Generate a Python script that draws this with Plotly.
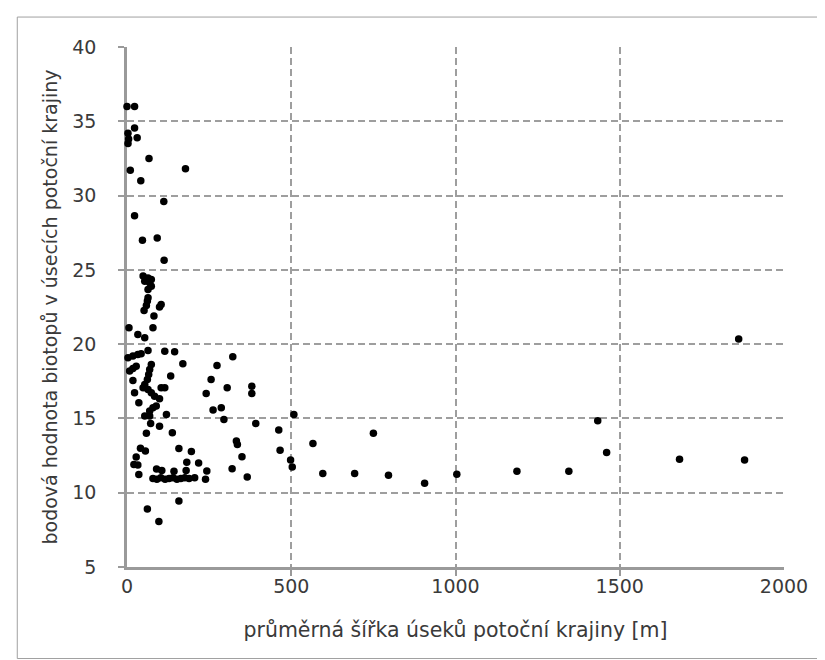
import plotly.graph_objects as go

# average width of stream landscape section [m]
width_m = [
    0, 23, 23, 3, 31, 5, 3, 67, 178, 10, 42, 112, 23, 92, 47, 113,
    49, 64, 74, 54, 69, 74, 64, 64, 62, 59, 52, 104, 99, 82, 6, 79, 33, 54,
    64, 115, 145, 170, 133, 3, 18, 33, 43, 8, 18, 28, 74, 69, 66, 62, 54, 18,
    49, 64, 74, 84, 99, 115, 104, 23, 36, 54, 69, 79, 89, 120, 69,
    322, 274, 256, 305, 241, 380, 380, 262, 287, 295, 392, 462, 333, 336, 350,
    466, 218, 196, 243, 320, 366, 239, 206, 182, 158,
    41, 56, 28, 21, 33, 36, 59, 72, 99, 138,
    90, 106, 143, 180, 79, 91, 103, 116, 128, 140, 152, 164, 176, 189,
    62, 158, 97,
    508, 498, 503, 566, 750, 596, 693, 796, 906, 1004, 1187, 1345, 1433, 1460,
    1682, 1880, 1862,
]

# point value of biotopes in stream landscape sections
biotope_value = [
    36.0, 36.0, 34.55, 34.2, 33.9, 33.8, 33.5, 32.5, 31.8, 31.7, 31.0, 29.6, 28.65, 27.15, 27.0, 25.65,
    24.58, 24.46, 24.35, 24.24, 24.13, 23.9, 23.68, 23.12, 22.9, 22.6, 22.26, 22.67, 22.5, 21.89, 21.1, 21.1, 20.65, 20.43,
    19.57, 19.53, 19.49, 18.68, 17.85, 19.08, 19.2, 19.3, 19.35, 18.19, 18.36, 18.52, 18.63, 18.3, 17.96, 17.62, 17.29, 17.56,
    17.07, 16.95, 16.73, 16.5, 16.33, 17.07, 17.07, 16.73, 16.06, 15.16, 15.5, 15.72, 15.83, 15.27, 15.16,
    19.15, 18.56, 17.62, 17.06, 16.68, 17.16, 16.68, 15.56, 15.72, 14.93, 14.66, 14.22, 13.48, 13.25, 12.42,
    12.85, 12.0, 12.77, 11.46, 11.62, 11.06, 10.9, 11.01, 12.05, 12.98,
    13.0, 12.8, 12.4, 11.9, 11.86, 11.23, 14.0, 14.66, 14.47, 14.04,
    11.6, 11.5, 11.45, 11.5, 10.95, 10.9, 11.0, 10.9, 10.95, 11.0, 10.9, 10.95, 11.0, 10.95,
    8.9, 9.45, 8.07,
    15.27, 12.2, 11.73, 13.32, 14.0, 11.3, 11.3, 11.17, 10.63, 11.25, 11.45, 11.45, 14.85, 12.7,
    12.25, 12.2, 20.35,
]

x_ticks = [0, 500, 1000, 1500, 2000]
y_ticks = [5, 10, 15, 20, 25, 30, 35, 40]

FONT = "DejaVu Sans, Liberation Sans, Arial, sans-serif"
TXT = "#3a3a3a"

fig = go.Figure()
fig.add_trace(go.Scatter(
    x=width_m, y=biotope_value, mode="markers",
    marker=dict(color="black", size=7.5, line=dict(width=0)),
    cliponaxis=False, showlegend=False,
))

axis_common = dict(
    showline=True, linecolor="#9a9a9a", linewidth=2.5,
    showgrid=True, gridcolor="#9e9e9e", gridwidth=1.5, griddash="7px,4px",
    zeroline=False, tickcolor="#9a9a9a", tickwidth=1.5,
    tickfont=dict(family=FONT, size=19, color=TXT),
    layer="below traces",
)

fig.update_xaxes(
    range=[0, 2000], tickvals=x_ticks, ticktext=[str(v) for v in x_ticks],
    ticks="inside", ticklen=1,
    minor=dict(ticks="outside", ticklen=6, tickcolor="#9a9a9a", tickwidth=1.5,
               tick0=0, dtick=500, showgrid=False),
    title=dict(text="průměrná šířka úseků potoční krajiny [m]",
               font=dict(family=FONT, size=20.5, color=TXT),
               standoff=28),
    ticklabelstandoff=0,
    **axis_common,
)
fig.update_yaxes(
    range=[5, 40], tickvals=y_ticks, ticktext=[str(v) for v in y_ticks],
    ticks="outside", ticklen=6,
    title=dict(text="bodová hodnota biotopů v úsecích potoční krajiny",
               font=dict(family=FONT, size=19, color=TXT),
               standoff=10),
    ticklabelstandoff=18,
    **axis_common,
)

# outer frame around the whole chart
fig.add_shape(type="rect", xref="paper", yref="paper",
              x0=-0.167, x1=1.0685, y0=-0.176, y1=1.0576,
              line=dict(color="#a0a0a0", width=1), fillcolor="rgba(0,0,0,0)")

fig.update_layout(
    width=825, height=660,
    margin=dict(l=119, r=49, t=39, b=101),
    paper_bgcolor="white", plot_bgcolor="white",
    font=dict(family=FONT),
)

fig.write_html("out.html")
